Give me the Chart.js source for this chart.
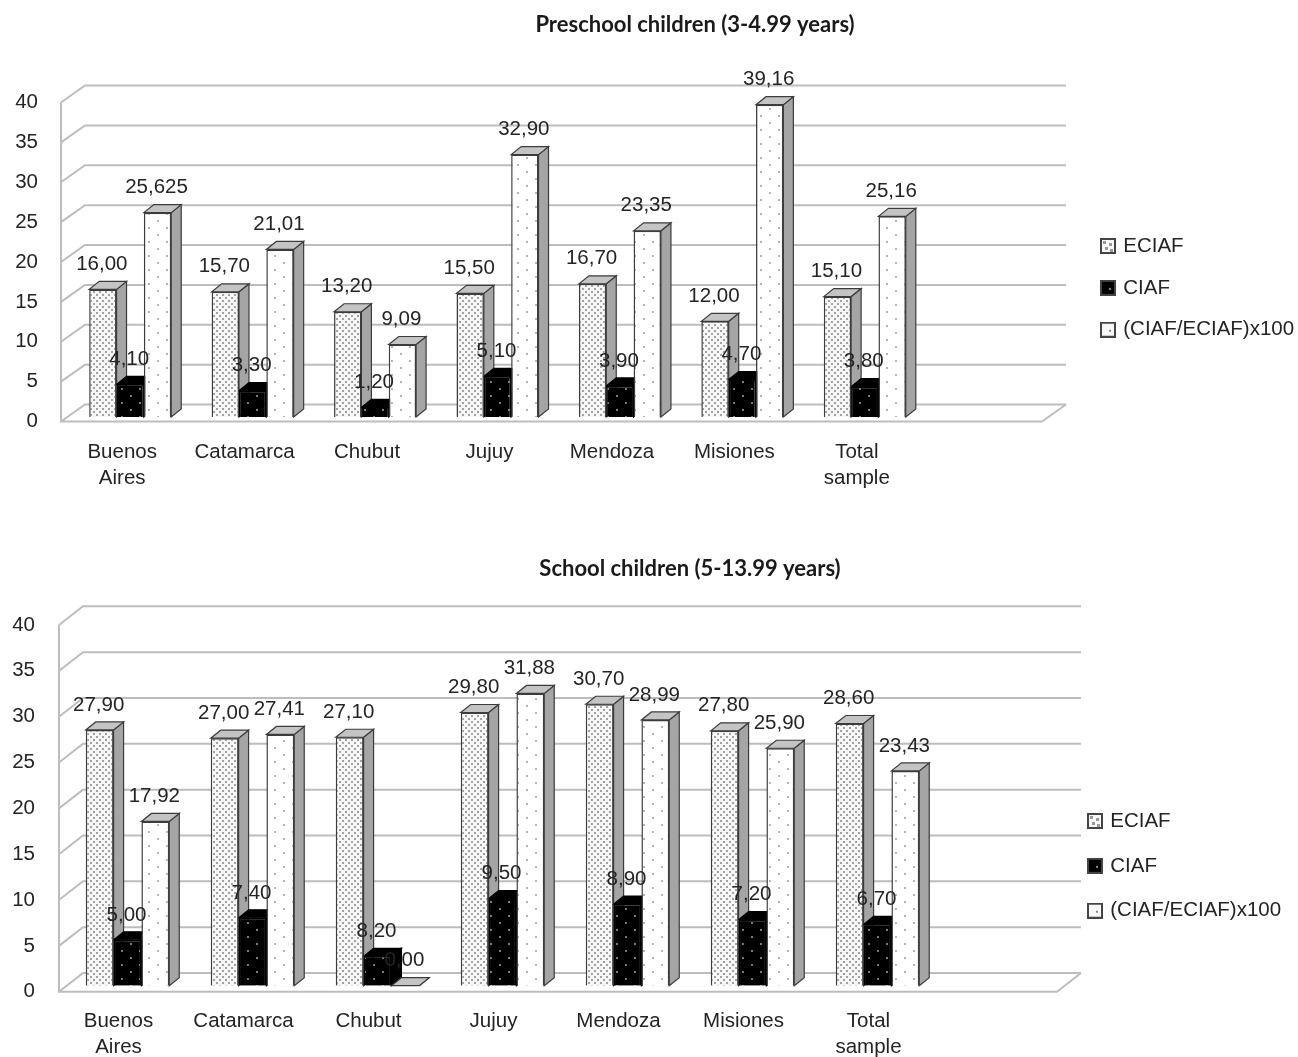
<!DOCTYPE html>
<html>
<head>
<meta charset="utf-8">
<title>ECIAF / CIAF</title>
<script src="https://cdn.jsdelivr.net/npm/chart.js@4/dist/chart.umd.min.js"></script>
<style>
    html, body { margin: 0; padding: 0; background: #fff; }
    canvas { display: block; filter: blur(0.4px); }
</style>
</head>
<body>
<canvas id="preschool" width="1298" height="520"></canvas>
<canvas id="school" width="1298" height="537"></canvas>
<script>
// ================= DATA =================
const categories = [['Buenos', 'Aires'], 'Catamarca', 'Chubut', 'Jujuy', 'Mendoza', 'Misiones', ['Total', 'sample']];
const seriesNames = ['ECIAF', 'CIAF', '(CIAF/ECIAF)x100'];
const yTicks = [0, 5, 10, 15, 20, 25, 30, 35, 40];

const preschoolEciaf = [16.0, 15.7, 13.2, 15.5, 16.7, 12.0, 15.1];
const preschoolCiaf = [4.1, 3.3, 1.2, 5.1, 3.9, 4.7, 3.8];
const preschoolRatio = [25.625, 21.01, 9.09, 32.9, 23.35, 39.16, 25.16];
const preschoolEciafText = ['16,00', '15,70', '13,20', '15,50', '16,70', '12,00', '15,10'];
const preschoolCiafText = ['4,10', '3,30', '1,20', '5,10', '3,90', '4,70', '3,80'];
const preschoolRatioText = ['25,625', '21,01', '9,09', '32,90', '23,35', '39,16', '25,16'];

const schoolEciaf = [27.9, 27.0, 27.1, 29.8, 30.7, 27.8, 28.6];
// the Chubut bar is drawn much lower than its printed 8,20
const schoolCiaf = [5.0, 7.4, 3.2, 9.5, 8.9, 7.2, 6.7];
const schoolRatio = [17.92, 27.41, 0, 31.88, 28.99, 25.9, 23.43];
const schoolEciafText = ['27,90', '27,00', '27,10', '29,80', '30,70', '27,80', '28,60'];
const schoolCiafText = ['5,00', '7,40', '8,20', '9,50', '8,90', '7,20', '6,70'];
const schoolRatioText = ['17,92', '27,41', '0,00', '31,88', '28,99', '25,90', '23,43'];

// ================= PATTERNS =================
const FONT = '"Liberation Sans", Arial, sans-serif';
const TEXT = '#242424';

function makeTile(w, h, bg, dot, dots, size) {
    const c = document.createElement('canvas');
    c.width = w; c.height = h;
    const g = c.getContext('2d');
    g.fillStyle = bg;
    g.fillRect(0, 0, w, h);
    g.fillStyle = dot;
    dots.forEach(d => g.fillRect(d[0], d[1], size, size));
    return c;
}

const tiles = [
    makeTile(6, 6, '#f6f6f6', '#a2a2a2', [[0, 0], [3, 3]], 2),
    makeTile(18, 14, '#000', '#7c7c7c', [[4, 3], [13, 10]], 2),
    makeTile(18, 14, '#fff', '#b4b4b4', [[4, 3], [13, 10]], 2)
];

function makeSwatch(i) {
    const c = document.createElement('canvas');
    c.width = 16; c.height = 16;
    const g = c.getContext('2d');
    g.fillStyle = i === 1 ? '#000' : '#f8f8f8';
    g.fillRect(0, 0, 16, 16);
    g.fillStyle = i === 0 ? '#9a9a9a' : '#888';
    if (i === 0) {
        [[3, 3], [9, 5], [5, 9], [10, 11]].forEach(d => g.fillRect(d[0], d[1], 3, 3));
    } else {
        g.fillRect(9, 8, 2, 2);
    }
    g.strokeStyle = '#444';
    g.lineWidth = 2;
    g.strokeRect(1, 1, 14, 14);
    return c;
}

// ================= 3D LOOK =================
function drawWalls(chart, geo) {
    const ctx = chart.ctx;
    const y = chart.scales.y;
    ctx.save();
    ctx.strokeStyle = '#bdbdbd';
    ctx.lineWidth = 2;
    ctx.beginPath();
    ctx.moveTo(geo.wallX, y.getPixelForValue(40) + geo.front);
    ctx.lineTo(geo.wallX, y.getPixelForValue(0) + geo.front);
    ctx.lineTo(geo.backRight - geo.wallDx, y.getPixelForValue(0) + geo.front);
    ctx.lineTo(geo.backRight, y.getPixelForValue(0) - geo.back);
    y.ticks.forEach(t => {
        const py = y.getPixelForValue(t.value);
        ctx.moveTo(geo.wallX, py + geo.front);
        ctx.lineTo(geo.wallX + geo.wallDx, py - geo.back);
        ctx.lineTo(geo.backRight, py - geo.back);
    });
    ctx.stroke();
    ctx.restore();
}

function drawFace(ctx, pts, fill) {
    ctx.beginPath();
    pts.forEach((p, i) => i ? ctx.lineTo(p[0], p[1]) : ctx.moveTo(p[0], p[1]));
    ctx.closePath();
    ctx.fillStyle = fill;
    ctx.fill();
    ctx.stroke();
}

function drawBarDepth(chart) {
    const ctx = chart.ctx;
    const dx = 10, dy = 8;
    ctx.save();
    ctx.lineWidth = 1.2;
    chart.data.datasets.forEach((ds, d) => {
        const black = d === 1;
        ctx.strokeStyle = black ? '#000' : '#3c3c3c';
        chart.getDatasetMeta(d).data.forEach(bar => {
            const l = bar.x - bar.width / 2, r = bar.x + bar.width / 2;
            drawFace(ctx, [[r, bar.y], [r + dx, bar.y - dy], [r + dx, bar.base - dy], [r, bar.base]], black ? '#000' : '#a5a5a5');
            drawFace(ctx, [[l, bar.y], [r, bar.y], [r + dx, bar.y - dy], [l + dx, bar.y - dy]], black ? '#000' : '#c4c4c4');
        });
    });
    ctx.restore();
}

function drawValueLabels(chart, texts) {
    const ctx = chart.ctx;
    ctx.save();
    ctx.font = '20.5px ' + FONT;
    ctx.fillStyle = TEXT;
    ctx.textAlign = 'center';
    ctx.textBaseline = 'middle';
    chart.data.datasets.forEach((ds, d) => {
        chart.getDatasetMeta(d).data.forEach((bar, i) => {
            ctx.fillText(texts[d][i], bar.x - 1, bar.y - 25);
        });
    });
    ctx.restore();
}

// ================= CHART =================
function buildChart(id, title, values, texts, geo) {
    const canvas = document.getElementById(id);
    const ctx = canvas.getContext('2d');
    new Chart(ctx, {
        type: 'bar',
        data: {
            labels: categories,
            datasets: values.map((v, i) => ({
                label: seriesNames[i],
                data: v,
                backgroundColor: ctx.createPattern(tiles[i], 'repeat'),
                borderColor: i === 1 ? '#000' : '#3c3c3c',
                borderWidth: 1.5,
                categoryPercentage: geo.groupShare,
                barPercentage: 1
            }))
        },
        options: {
            responsive: false,
            animation: false,
            devicePixelRatio: 1,
            layout: { padding: { left: 0, right: canvas.width - geo.right, top: 0, bottom: 0 } },
            plugins: {
                tooltip: { enabled: false },
                title: {
                    display: true,
                    text: title,
                    color: '#1a1a1a',
                    font: { family: 'Lato', weight: 'bold', size: 22 },
                    padding: { top: geo.titleTop, bottom: geo.top - geo.titleTop - 26.4 }
                },
                legend: {
                    position: 'chartArea',
                    align: 'start',
                    labels: {
                        usePointStyle: true,
                        pointStyleWidth: 10,
                        boxHeight: 16,
                        padding: geo.legendGap - 24.6,
                        color: TEXT,
                        font: { family: FONT, size: 20.5 },
                        generateLabels: c => c.data.datasets.map((ds, i) => ({
                            text: ds.label,
                            datasetIndex: i,
                            pointStyle: makeSwatch(i),
                            fontColor: TEXT,
                            lineWidth: 0
                        }))
                    }
                }
            },
            scales: {
                x: {
                    grid: { display: false, drawTicks: false },
                    border: { display: false },
                    afterFit: s => { s.height = canvas.height - geo.bottom; },
                    ticks: {
                        color: TEXT,
                        maxRotation: 0,
                        autoSkip: false,
                        padding: geo.xPad,
                        labelOffset: geo.xShift,
                        font: { family: FONT, size: 20.5, lineHeight: 1.25 }
                    }
                },
                y: {
                    min: 0,
                    max: 40,
                    grid: { display: false, drawTicks: false },
                    border: { display: false },
                    afterFit: s => { s.width = geo.left; },
                    afterBuildTicks: s => { s.ticks = yTicks.map(v => ({ value: v })); },
                    ticks: {
                        color: TEXT,
                        padding: geo.left - geo.tickRight,
                        labelOffset: geo.front,
                        font: { family: FONT, size: 20.5 }
                    }
                }
            }
        },
        plugins: [{
            id: 'flatExcel3d',
            afterLayout(chart) {
                const t = chart.titleBlock;
                t.left = geo.titleX - canvas.width / 2;
                t.right = geo.titleX + canvas.width / 2;
                const lg = chart.legend;
                const pad = lg.options.labels.padding;
                lg.left = geo.legendX + 3 - pad;
                lg.right = lg.left + 260;
                lg.top = geo.legendY - 12.3 - pad;
                lg.bottom = lg.top + 220;
            },
            beforeDatasetsDraw(chart) {
                drawWalls(chart, geo);
                drawBarDepth(chart);
            },
            afterDatasetsDraw(chart) {
                drawValueLabels(chart, texts);
            }
        }]
    });
}

buildChart('preschool', 'Preschool children (3-4.99 years)',
    [preschoolEciaf, preschoolCiaf, preschoolRatio],
    [preschoolEciafText, preschoolCiafText, preschoolRatioText],
    { left: 69, right: 926, top: 98, bottom: 417, titleTop: 12, titleX: 695, tickRight: 38,
      wallX: 61, wallDx: 24, backRight: 1066, back: 12.5, front: 4.5,
      groupShare: 0.67, xPad: 23, xShift: -8, legendX: 1100, legendY: 248, legendGap: 46 });

buildChart('school', 'School children (5-13.99 years)',
    [schoolEciaf, schoolCiaf, schoolRatio],
    [schoolEciafText, schoolCiafText, schoolRatioText],
    { left: 65, right: 940, top: 99, bottom: 465.7, titleTop: 36, titleX: 690, tickRight: 35,
      wallX: 59, wallDx: 24, backRight: 1081, back: 12.7, front: 6,
      groupShare: 0.668, xPad: 23, xShift: -9, legendX: 1087, legendY: 303, legendGap: 49 });
</script>
</body>
</html>
